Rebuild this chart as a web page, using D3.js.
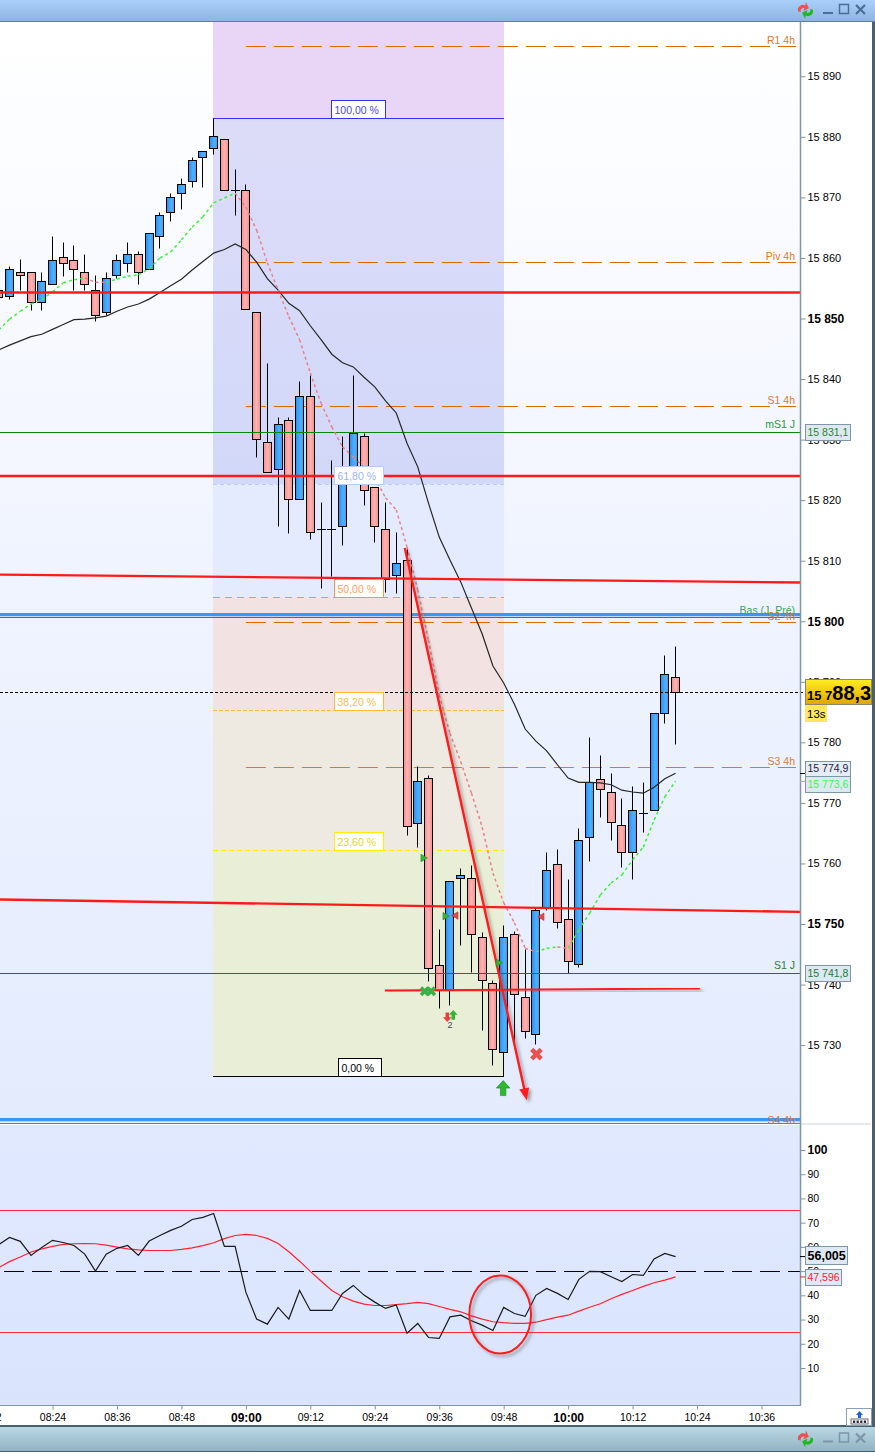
<!DOCTYPE html>
<html><head><meta charset="utf-8">
<style>html,body{margin:0;padding:0;background:#fff}svg{display:block}text{font-family:"Liberation Sans",Arial,sans-serif}</style>
<script src="https://cdnjs.cloudflare.com/ajax/libs/d3/7.8.5/d3.min.js"></script>
</head><body><div id="c"></div>
<script>
const firstMinute = 494, stepMinutes = 2;
const opens = [15854.7,15853.6,15857.6,15857.6,15852.7,15855.6,15860.1,15859.6,15857.6,15854.7,15851.0,15857.1,15859.1,15860.6,15858.1,15863.6,15867.5,15870.6,15872.7,15876.6,15878.1,15879.6,15871.2,15871.2,15851.0,15829.6,15825.1,15833.2,15820.1,15837.2,15815.2,15815.2,15815.7,15823.7,15830.5,15822.1,15815.2,15807.6,15810.1,15766.6,15774.1,15743.2,15739.1,15757.5,15757.5,15747.8,15740.2,15728.8,15748.3,15737.9,15731.8,15752.8,15759.9,15750.8,15743.3,15764.3,15773.9,15771.7,15766.3,15761.8,15768.3,15768.8,15784.8,15790.7];
const highs = [15855.0,15858.7,15859.7,15857.6,15857.6,15863.6,15862.6,15862.1,15860.6,15857.1,15857.6,15860.6,15862.6,15861.1,15864.1,15867.5,15870.7,15873.2,15876.6,15877.6,15883.1,15879.6,15874.6,15872.2,15851.0,15842.6,15833.7,15833.7,15839.6,15840.6,15819.6,15826.6,15830.6,15840.6,15831.1,15822.1,15819.6,15814.7,15812.1,15776.1,15774.6,15749.2,15757.0,15759.2,15759.7,15748.6,15740.7,15749.8,15748.8,15745.8,15752.6,15761.8,15762.3,15757.4,15765.8,15780.8,15777.9,15774.9,15770.8,15772.8,15773.4,15784.8,15794.4,15795.9];
const lows = [15853.0,15853.1,15854.6,15851.4,15851.4,15855.6,15857.0,15854.6,15854.6,15849.5,15850.5,15856.6,15857.6,15855.6,15858.1,15861.6,15866.0,15868.0,15871.6,15871.6,15877.1,15871.2,15867.0,15851.5,15827.0,15824.6,15815.6,15814.6,15820.1,15813.5,15805.5,15807.5,15812.5,15823.7,15819.1,15813.0,15804.7,15804.6,15764.6,15762.6,15740.6,15736.1,15736.5,15746.5,15742.1,15732.5,15726.7,15724.8,15729.4,15731.2,15730.2,15752.2,15749.3,15741.9,15742.8,15760.3,15767.7,15763.8,15759.3,15757.3,15765.2,15768.8,15783.2,15779.7];
const closes = [15853.5,15858.1,15857.1,15852.7,15856.1,15859.6,15859.1,15858.1,15855.6,15850.5,15856.6,15859.6,15860.6,15857.6,15864.1,15867.1,15870.0,15872.2,15876.1,15877.6,15880.1,15871.2,15871.2,15851.5,15830.0,15824.6,15832.5,15820.1,15837.2,15814.7,15815.2,15815.2,15825.1,15831.0,15821.6,15815.7,15807.0,15809.6,15766.1,15773.6,15742.7,15739.1,15757.0,15758.0,15748.3,15740.7,15729.3,15747.8,15738.4,15732.3,15752.3,15758.9,15750.3,15743.8,15763.8,15773.4,15772.2,15766.8,15761.8,15768.8,15768.3,15784.8,15791.2,15788.3];
const maSlow = [15844.8,15845.6,15846.3,15847.0,15847.4,15848.2,15849.0,15849.8,15849.9,15850.1,15850.4,15851.2,15851.9,15852.4,15853.2,15854.3,15855.4,15856.5,15858.0,15859.4,15860.8,15861.4,15862.3,15861.4,15859.3,15856.6,15854.7,15852.5,15851.3,15848.8,15846.5,15844.1,15842.7,15842.0,15840.3,15838.7,15836.4,15834.4,15829.4,15825.5,15819.5,15813.9,15810.1,15806.5,15802.2,15797.9,15792.6,15789.8,15786.3,15782.2,15780.2,15778.6,15776.3,15774.1,15773.4,15773.4,15773.3,15773.0,15772.1,15771.8,15771.6,15772.6,15774.0,15774.9];
const maFast = [15848.1,15849.9,15851.2,15852.4,15853.1,15854.4,15855.9,15856.4,15856.7,15856.0,15856.0,15856.5,15857.0,15857.2,15858.2,15860.0,15861.0,15863.0,15865.1,15866.8,15869.1,15869.9,15870.7,15868.4,15864.6,15859.2,15854.7,15850.3,15846.5,15841.0,15836.0,15832.1,15828.8,15827.1,15825.5,15823.7,15820.4,15818.4,15812.3,15805.2,15796.9,15787.8,15781.5,15776.8,15771.6,15766.0,15758.4,15753.5,15750.2,15746.0,15745.4,15746.0,15746.2,15746.0,15749.0,15751.8,15754.8,15756.8,15758.1,15760.6,15762.7,15767.2,15771.0,15773.6];
const rsiLine = [61,63.9,62.3,56.5,59.8,62.7,61.8,60.6,57,50,57,59.4,60.6,56.5,62.4,64.7,66.8,68.5,71.3,72.2,73.8,60.2,60.2,41.3,30.2,28.1,35,30.2,42,33.75,33.75,33.75,40.8,44.1,40.1,37.2,34.6,36,24.4,28.4,22.6,22.2,31.1,31.8,29.5,27.7,25.5,35,32.5,31.3,40,42.8,40.8,38.3,46.6,49.9,49.8,47.7,45.7,48.6,48.2,55,57.3,56.0];
const rsiSignal = [51.5,53.9,55.8,57.9,59.2,60.2,61,61.3,61.4,61.3,60.7,59.9,59.2,58.8,58.5,58.5,58.5,59,59.6,60.5,61.7,63.4,64.7,65.2,64.7,63.5,61.4,58,54.1,49.9,45.9,42,39.4,37.6,36.4,35.8,35.8,36.2,36.6,37.1,36.6,35.4,34.2,33.2,31.5,30.2,29.1,28.7,28.4,28.4,28.9,30,31,31.8,33.5,35.1,36.5,38.6,40.4,42,43.7,45.2,46.3,47.6];
const priceTicks = [15890,15880,15870,15860,15850,15840,15830,15820,15810,15800,15790,15780,15770,15760,15750,15740,15730];
const boldPriceTicks = [15850,15800,15750];
const rsiTicks = [100,90,80,70,60,50,40,30,20,10];
const rsiBands = [75,25];
const timeTicks = [492,504,516,528,540,552,564,576,588,600,612,624,636];
const fibHigh = 15883.1, fibLow = 15724.8, fibStart = 534, fibEnd = 588;
const fibPcts = [100,61.8,50,38.2,23.6,0];
const fibLabels = ["100,00 %","61,80 %","50,00 %","38,20 %","23,60 %","0,00 %"];
const pivotNames = ["R1 4h","Piv 4h","S1 4h","S2 4h","S3 4h"];
const pivotPrices = [15895.0,15859.3,15835.5,15799.9,15775.8];
const dayLevelNames = ["mS1 J","S1 J"];
const dayLevelPrices = [15831.1,15741.8];
const blueLevelNames = ["Bas (J. Pré)","S4 4h"];
const blueLevelPrices = [15801.1,15717.7];
const bluePanelGreen = 15800.6;
const flatRedPrices = [15854.3,15824.0];
const slopedRed = [[15807.7,15806.4],[15754.05,15752.0]];
const shortTrend = [[565.9,15739],[624.6,15739.35]];
const arrowTrend = [[569.6,15812.1],[592.3,15720.9]];
const rsiEllipse = {minutes:[581.6,593.1], rsi:[48.2,16]};
const lastPrice = 15788.3;
const markerMinutes = [573,577.1,579.1,595.1,587,573.9,577.5,578.6,587.9,594.1];
const markerPrices = [15760.9,15751.3,15751.4,15751.2,15743.6,15738.9,15734.6,15735,15722.9,15728.5];
const markerKinds = ["triG","triG","triR","triR","triG","xx","dn","up","UP","X"];

const W=875,H=1454,axisX=800;
const minutes=opens.map((_,i)=>firstMinute+i*stepMinutes);
const x=d3.scaleLinear().domain([504,636]).range([52.5,761.5]);
const y=d3.scaleLinear().domain([15890,15730]).range([76.3,1045.1]);
const r=d3.scaleLinear().domain([100,10]).range([1150,1368]);
const fmt=v=>{const s=String(v);return s.slice(0,2)+" "+s.slice(2)};
const hm=m=>d3.format("02")(Math.floor(m/60))+":"+d3.format("02")(m%60);
const cx=v=>Math.floor(x(v))+.5, cy=v=>Math.round(y(v)-.3)+.5;

const svg=d3.select("#c").append("svg").attr("width",W).attr("height",H).attr("viewBox",`0 0 ${W} ${H}`);
const defs=svg.append("defs");
function grad(id,dir,stops){const g=defs.append("linearGradient").attr("id",id);
  if(dir==="v")g.attr("x1",0).attr("x2",0).attr("y1",0).attr("y2",1);
  stops.forEach(([o,c])=>g.append("stop").attr("offset",o).attr("stop-color",c));}
grad("bgMain","v",[[0,"#ffffff"],[.5,"#f0f4ff"],[1,"#e3ebfd"]]);
grad("bgRsi","v",[[0,"#e1e9ff"],[1,"#d9e4fc"]]);
grad("barTop","v",[[0,"#a9d0fb"],[1,"#8fb4e0"]]);
grad("barBot","v",[[0,"#b9d8e4"],[1,"#92b3c2"]]);
grad("pink","h",[[0,"#f89090"],[.5,"#ffb2b2"],[1,"#f58e8e"]]);
grad("blue","h",[[0,"#2a8df0"],[.6,"#4fb0ff"],[1,"#3a9ff8"]]);
grad("gold","v",[[0,"#ffee22"],[1,"#e2a400"]]);
grad("fibTop","v",[[0,"#dcdcf8"],[1,"#d2d8f9"]]);
const sh=defs.append("filter").attr("id","shadow").attr("x","-20%").attr("y","-20%").attr("width","150%").attr("height","150%");
sh.append("feDropShadow").attr("dx",2.5).attr("dy",2.5).attr("stdDeviation",1.8).attr("flood-color","#555").attr("flood-opacity",.55);

// frame
svg.append("rect").attr("width",W).attr("height",H).attr("fill","#fff");
svg.append("rect").attr("y",22).attr("width",axisX).attr("height",1102).attr("fill","url(#bgMain)");
svg.append("rect").attr("y",1125).attr("width",axisX).attr("height",280).attr("fill","url(#bgRsi)");

// fibonacci zones
const fibPrice=p=>fibLow+(fibHigh-fibLow)*p/100;
const fx0=Math.floor(x(fibStart)), fx1=Math.ceil(x(fibEnd));
const zoneFills=["url(#fibTop)","#e5ebfe","#f2e2e2","#eeeae1","#e9efd7"];
svg.append("rect").attr("x",fx0).attr("y",22).attr("width",fx1-fx0).attr("height",y(fibHigh)-22).attr("fill","#e9d5f5");
fibPcts.slice(0,-1).forEach((p,i)=>{
  svg.append("rect").attr("x",fx0).attr("width",fx1-fx0).attr("y",y(fibPrice(p))).attr("height",y(fibPrice(fibPcts[i+1]))-y(fibPrice(p))).attr("fill",zoneFills[i]);
});
const fibLine=["#3333ee","#b9cdfb","#ff8f55","#ffbb33","#ffee00","#000"];
const fibText=["#4a4ae8","#9db2ea","#ff9c66","#f5c04a","#d9d92a","#000"];
const fibDash=[null,"4,3","7,5","4,2","5,3",null];
fibPcts.forEach((p,i)=>{
  svg.append("line").attr("x1",fx0).attr("x2",fx1).attr("y1",cy(fibPrice(p))).attr("y2",cy(fibPrice(p)))
    .attr("stroke",fibLine[i]).attr("stroke-dasharray",fibDash[i]);
});
// orange pivots
pivotPrices.forEach((p,i)=>{
  svg.append("line").attr("x1",x(540)).attr("x2",axisX-4).attr("y1",cy(p)).attr("y2",cy(p))
    .attr("stroke",pivotNames[i]==="S3 4h"?"#b98547":"#d86a00").attr("stroke-dasharray","20,8");
});
// blue levels
blueLevelPrices.forEach(p=>svg.append("line").attr("x1",0).attr("x2",axisX).attr("y1",y(p)).attr("y2",y(p)).attr("stroke","#3b98f2").attr("stroke-width",3.2));
svg.append("line").attr("x1",0).attr("x2",axisX).attr("y1",Math.floor(y(bluePanelGreen))+.5).attr("y2",Math.floor(y(bluePanelGreen))+.5).attr("stroke","#2c8a3c");

// candles
const bars=svg.append("g").selectAll("g").data(minutes).join("g");
bars.append("line").attr("x1",d=>cx(d)).attr("x2",d=>cx(d))
  .attr("y1",(d,i)=>cy(highs[i])).attr("y2",(d,i)=>cy(lows[i])).attr("stroke","#000").attr("stroke-width",1);
bars.each(function(d,i){
  const g=d3.select(this),t=Math.max(opens[i],closes[i]),b=Math.min(opens[i],closes[i]);
  if(opens[i]===closes[i]){
    g.append("line").attr("x1",cx(d)-4.5).attr("x2",cx(d)+4.5).attr("y1",cy(t)).attr("y2",cy(t)).attr("stroke","#000");
  } else {
    g.append("rect").attr("x",cx(d)-4).attr("width",8).attr("y",cy(t)).attr("height",Math.max(1,cy(b)-cy(t)))
     .attr("fill",closes[i]<opens[i]?"url(#pink)":"url(#blue)").attr("stroke","#000").attr("stroke-width",1);
  }
});
// day levels above candles
dayLevelPrices.forEach((p,i)=>svg.append("line").attr("x1",0).attr("x2",axisX).attr("y1",Math.floor(y(p))+.5).attr("y2",Math.floor(y(p))+.5).attr("stroke",i?"#1f6e45":"#0a860a"));

// moving averages
const lineP=d3.line().x((d,i)=>x(minutes[i])).y(d=>y(d));
svg.append("path").attr("d",lineP(maSlow)).attr("fill","none").attr("stroke","#262626").attr("stroke-width",1.2);
maFast.slice(1).forEach((v,i)=>{
  svg.append("line").attr("x1",x(minutes[i])).attr("y1",y(maFast[i])).attr("x2",x(minutes[i+1])).attr("y2",y(v))
   .attr("stroke",v>maFast[i]?"#3df03d":"#e9808a").attr("stroke-width",1.5).attr("stroke-dasharray","3,3");
});

// price dashed
svg.append("line").attr("x1",0).attr("x2",axisX+5).attr("y1",cy(lastPrice)).attr("y2",cy(lastPrice)).attr("stroke","#000").attr("stroke-dasharray","3,2");

// red hand-drawn lines
const red="#ff1a1a";
flatRedPrices.forEach(p=>svg.append("line").attr("x1",0).attr("x2",axisX).attr("y1",y(p)).attr("y2",y(p)).attr("stroke",red).attr("stroke-width",2.4));
slopedRed.forEach(([a,b])=>svg.append("line").attr("x1",0).attr("x2",axisX).attr("y1",y(a)).attr("y2",y(b)).attr("stroke",red).attr("stroke-width",2.4));
svg.append("line").attr("x1",x(shortTrend[0][0])).attr("x2",x(shortTrend[1][0])).attr("y1",y(shortTrend[0][1])).attr("y2",y(shortTrend[1][1])).attr("stroke",red).attr("stroke-width",2).attr("filter","url(#shadow)");
const ax0=x(arrowTrend[0][0]),ay0=y(arrowTrend[0][1]),ax1=x(arrowTrend[1][0]),ay1=y(arrowTrend[1][1]);
const ang=Math.atan2(ay1-ay0,ax1-ax0),hl=12,hw=5;
const ag=svg.append("g").attr("filter","url(#shadow)");
ag.append("line").attr("x1",ax0).attr("y1",ay0).attr("x2",ax1-Math.cos(ang)*8).attr("y2",ay1-Math.sin(ang)*8).attr("stroke",red).attr("stroke-width",2.4);
ag.append("path").attr("fill",red).attr("d",d3.line()([[ax1,ay1],
  [ax1-hl*Math.cos(ang)+hw*Math.sin(ang),ay1-hl*Math.sin(ang)-hw*Math.cos(ang)],
  [ax1-hl*Math.cos(ang)-hw*Math.sin(ang),ay1-hl*Math.sin(ang)+hw*Math.cos(ang)]])+"Z");

// fib labels
fibPcts.forEach((p,i)=>{
  const w=[54,49,49,49,49,43][i], left=[331,334,334,334,334,338][i];
  const yy=cy(fibPrice(p));
  svg.append("rect").attr("x",left+.5).attr("y",yy-18).attr("width",w).attr("height",18).attr("fill","#fff").attr("stroke",fibLine[i]);
  svg.append("text").attr("x",left+3.5).attr("y",yy-5).attr("font-size",10.5).attr("fill",fibText[i]).text(fibLabels[i]);
});

// markers
const mg=svg.append("g");
markerKinds.forEach((k,i)=>{
  const px=x(markerMinutes[i]),py=y(markerPrices[i]);
  const t=`translate(${px},${py})`;
  if(k==="triG"||k==="triR"){
    const dir=k==="triG"?90:-90;
    mg.append("path").attr("transform",t+` rotate(${dir})`).attr("d",d3.symbol(d3.symbolTriangle,24)()).attr("fill",k==="triG"?"#3cb43c":"#e24a4a").attr("stroke",k==="triG"?"#1f8a1f":"#c03030").attr("stroke-width",.6);
  } else if(k==="xx"){
    [-3.2,3.2].forEach(d=>mg.append("path").attr("transform",`translate(${px+d},${py}) rotate(45)`).attr("d",d3.symbol(d3.symbolCross,62)()).attr("fill","#3ab04a"));
  } else if(k==="X"){
    mg.append("path").attr("transform",t+" rotate(45)").attr("d",d3.symbol(d3.symbolCross,100)()).attr("fill","#ea5050");
  } else {
    const big=k==="UP", s=big?1.25:.8, col=(k==="dn")?"#e84040":"#2eb82e";
    const rot=k==="dn"?180:0;
    mg.append("path").attr("transform",t+` rotate(${rot}) scale(${s})`).attr("d","M0,-6L5.5,0H2.2V6H-2.2V0H-5.5Z").attr("fill",col).attr("stroke",big?"#1e9030":"none").attr("stroke-width",.5);
  }
});
mg.append("text").attr("x",x(578)).attr("y",y(15733)+1).attr("text-anchor","middle").attr("font-size",9).attr("fill","#445").text("2");

// level labels
function lab(t,ax,ay,col){svg.append("text").attr("x",ax).attr("y",ay).attr("text-anchor","end").attr("font-size",10.5).attr("fill",col).text(t);}
pivotNames.forEach((n,i)=>lab(n,795,cy(pivotPrices[i])-3,n==="S3 4h"?"#cc8040":"#dd7a28"));
lab(dayLevelNames[0],795,Math.floor(y(dayLevelPrices[0]))-4,"#2a9a3a");
lab(dayLevelNames[1],795,Math.floor(y(dayLevelPrices[1]))-4,"#2a7a3a");
lab(blueLevelNames[0],795,y(blueLevelPrices[0])-1,"#2ea860");
lab(blueLevelNames[1],795,y(blueLevelPrices[1])+4,"#d8703a");

// RSI
const lineR=d3.line().x((d,i)=>x(minutes[i])).y(d=>r(d));
rsiBands.forEach(v=>svg.append("line").attr("x1",0).attr("x2",axisX).attr("y1",Math.round(r(v)-.1)+.5).attr("y2",Math.round(r(v)-.1)+.5).attr("stroke","#ff2a3a"));
svg.append("line").attr("x1",0).attr("x2",axisX).attr("y1",Math.floor(r(50))+.5).attr("y2",Math.floor(r(50))+.5).attr("stroke","#000").attr("stroke-width",1.1).attr("stroke-dasharray","20,8").attr("stroke-dashoffset",-4);
svg.append("path").attr("d",lineR(rsiSignal)).attr("fill","none").attr("stroke","#ff2030").attr("stroke-width",1.2);
svg.append("path").attr("d",lineR(rsiLine)).attr("fill","none").attr("stroke","#1a1a1a").attr("stroke-width",1.2);
const ex0=x(rsiEllipse.minutes[0]),ex1=x(rsiEllipse.minutes[1]),ey0=r(rsiEllipse.rsi[0]),ey1=r(rsiEllipse.rsi[1]);
svg.append("ellipse").attr("cx",(ex0+ex1)/2).attr("cy",(ey0+ey1)/2).attr("rx",(ex1-ex0)/2).attr("ry",(ey1-ey0)/2)
  .attr("fill","none").attr("stroke",red).attr("stroke-width",2).attr("filter","url(#shadow)");

// axes
const gray="#7e97a5";
svg.append("line").attr("x1",0).attr("x2",axisX).attr("y1",1123.5).attr("y2",1123.5).attr("stroke","#66808f");
svg.append("line").attr("x1",axisX+1).attr("x2",871).attr("y1",1124).attr("y2",1124).attr("stroke","#c8d4dc");
const ay=svg.append("g").attr("transform",`translate(${axisX+.5},0)`).call(d3.axisRight(y).tickValues(priceTicks).tickSize(5).tickPadding(2).tickFormat(fmt));
ay.select(".domain").remove();
ay.selectAll("line").attr("stroke",gray);
ay.selectAll("text").attr("font-size",d=>boldPriceTicks.includes(d)?12:11).attr("font-weight",d=>boldPriceTicks.includes(d)?"bold":"normal").attr("fill","#000").attr("font-family",null);
const ar=svg.append("g").attr("transform",`translate(${axisX+.5},0)`).call(d3.axisRight(r).tickValues(rsiTicks).tickSize(5).tickPadding(2));
ar.select(".domain").remove();
ar.selectAll("line").attr("stroke",gray);
ar.selectAll("text").attr("font-size",d=>d===100?12:10.5).attr("font-weight",d=>d===100?"bold":"normal").attr("fill","#000").attr("font-family",null);
svg.append("line").attr("x1",axisX+.5).attr("x2",axisX+.5).attr("y1",22).attr("y2",1405).attr("stroke",gray).attr("stroke-width",1.5);
svg.append("line").attr("x1",0).attr("x2",axisX+1).attr("y1",1405.5).attr("y2",1405.5).attr("stroke",gray);
const at=svg.append("g").attr("transform","translate(0,1405.5)").call(d3.axisBottom(x).tickValues(timeTicks).tickSize(4).tickPadding(4).tickFormat(hm));
at.select(".domain").remove();
at.selectAll("line").attr("stroke",gray);
at.selectAll("text").attr("font-size",d=>d%60===0?12:10.5).attr("font-weight",d=>d%60===0?"bold":"normal").attr("fill","#000").attr("font-family",null);

// value badges
function badge(t,x0,y0,w,h,fill,stroke,col,fs,bold){
  svg.append("rect").attr("x",x0+.5).attr("y",y0+.5).attr("width",w).attr("height",h).attr("fill",fill).attr("stroke",stroke);
  svg.append("text").attr("x",x0+2.5).attr("y",y0+h/2+fs*.38).attr("font-size",fs).attr("font-weight",bold?"bold":"normal").attr("fill",col).text(t);
}
const tickLine=(yy,c)=>svg.append("line").attr("x1",axisX).attr("x2",axisX+6).attr("y1",yy).attr("y2",yy).attr("stroke",c);
tickLine(cy(maSlow[63]),"#000"); tickLine(cy(maFast[63]),"#33ff33");
badge("15 831,1",805,424,45,16,"#dde8f0","#7e97a5","#1f8a2a",10.5);
badge("15 741,8",805,965,45,16,"#dde8f0","#7e97a5","#1f7a3a",10.5);
badge("15 774,9",805,761,45,15,"#e6ecf4","#7e97a5","#222244",10.5);
badge("15 773,6",805,776,45,16,"#dde8f0","#7e97a5","#33ff44",10.5);
tickLine(r(rsiLine[63]),"#000"); tickLine(r(rsiSignal[63]),"#ff2030");
badge("56,005",805,1246,42,18,"#dfe9f5","#7e97a5","#000",12.5,true);
badge("47,596",805,1269,36,16,"#dfe9f5","#7e97a5","#ff2030",10.5);
// last price
svg.append("rect").attr("x",805.5).attr("y",679.5).attr("width",66).attr("height",25).attr("fill","url(#gold)").attr("stroke","#8a8a6a");
const tp=svg.append("text").attr("x",807).attr("y",700).attr("font-weight","bold").attr("fill","#000");
tp.append("tspan").attr("font-size",13).text("15 7");
tp.append("tspan").attr("font-size",20).text("88,3");
svg.append("rect").attr("x",805).attr("y",705).attr("width",22).attr("height",17).attr("fill","#ffe860");
svg.append("text").attr("x",807).attr("y",718).attr("font-size",11.5).attr("fill","#000").text("13s");

// window chrome
svg.append("rect").attr("width",W).attr("height",21).attr("fill","url(#barTop)");
svg.append("line").attr("x1",0).attr("x2",W).attr("y1",21.5).attr("y2",21.5).attr("stroke","#5d80a8");
svg.append("rect").attr("x",872).attr("y",22).attr("width",3).attr("height",1404).attr("fill","#4a6070");
svg.append("rect").attr("x",0).attr("y",1425).attr("width",W).attr("height",27).attr("fill","#46606e");
svg.append("rect").attr("x",0).attr("y",1427).attr("width",W).attr("height",24).attr("fill","url(#barBot)");
function chrome(yc,col){
  const g=svg.append("g");
  g.append("path").attr("transform",`translate(803,${yc}) rotate(-25)`).attr("d","M-5,-1 A5,5 0 0 1 4,-3 L6,-6 L6,1 L0,1 L2,-1 A3,3 0 0 0 -3,1Z").attr("fill","#f05050");
  g.append("path").attr("transform",`translate(808,${yc+1}) rotate(155)`).attr("d","M-5,-1 A5,5 0 0 1 4,-3 L6,-6 L6,1 L0,1 L2,-1 A3,3 0 0 0 -3,1Z").attr("fill","#22b822");
  g.append("rect").attr("x",823).attr("y",yc+2).attr("width",10).attr("height",2).attr("fill",col);
  g.append("rect").attr("x",839.5).attr("y",yc-5.5).attr("width",9).attr("height",9).attr("fill","none").attr("stroke",col).attr("stroke-width",1.5);
  g.append("path").attr("d",`M856,${yc-5}L865,${yc+4}M865,${yc-5}L856,${yc+4}`).attr("stroke",col).attr("stroke-width",2.2).attr("fill","none");
}
chrome(10,"#4a6f94");
chrome(1438.5,"#7d96a4");
// bottom-right button
svg.append("rect").attr("x",846.5).attr("y",1408.5).attr("width",25).attr("height",17).attr("fill","#fff").attr("stroke","#8aa0ac");
svg.append("path").attr("d","M859.5,1411l3.5,4h-2v3h-3v-3h-2z").attr("fill","#1f5fd8");
svg.append("rect").attr("x",851).attr("y",1419).attr("width",17).attr("height",5).attr("fill","#fff").attr("stroke","#445").attr("stroke-width",.8);
d3.range(4).forEach(i=>svg.append("rect").attr("x",853+i*3.6).attr("y",1420.5).attr("width",2.2).attr("height",2.4).attr("fill","#223"));
</script></body></html>
